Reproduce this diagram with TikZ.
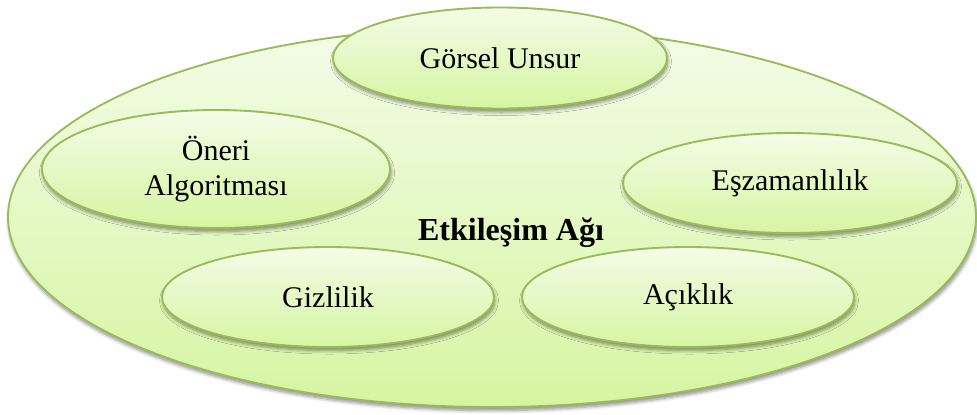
\documentclass[tikz,border=0pt]{standalone}
\usepackage{fontspec}
\setmainfont{Liberation Serif}
\usetikzlibrary{shapes.geometric,shadows.blur}
\definecolor{rimgreen}{HTML}{9BBB59}
\definecolor{filltop}{HTML}{F3FCE8}
\definecolor{fillbottom}{HTML}{D6F5A2}
\tikzset{
  bubble/.style={ellipse, draw=rimgreen, line width=0.75pt, inner sep=0pt,
    top color=filltop, bottom color=fillbottom,
    blur shadow={shadow xshift=0.4pt, shadow yshift=-1.4pt, shadow blur steps=6,
      shadow blur radius=1.4pt, shadow opacity=45},
    font=\fontsize{12}{14}\selectfont, align=center, text=black},
  outer/.style={bubble},
  title/.style={font=\fontsize{12.8}{15}\selectfont\bfseries, text=black}
}
\begin{document}
\begin{tikzpicture}[x=0.4pt, y=-0.4pt]
  \useasboundingbox (0,0) rectangle (977,414);
  % surrounding network ellipse
  \node[outer, minimum width=968*0.4pt, minimum height=380*0.4pt] (net) at (492,217) {};
  \node[title] (nettitle) at (511,233) {Etkileşim Ağı};
  % inner topics
  \node[bubble, minimum width=334*0.4pt, minimum height=101*0.4pt] (gorsel) at (500,58) {Görsel Unsur};
  \node[bubble, minimum width=348*0.4pt, minimum height=118*0.4pt] (oneri) at (216,169) {Öneri\\Algoritması};
  \node[bubble, minimum width=334*0.4pt, minimum height=100*0.4pt] (eszaman) at (790,183) {Eşzamanlılık};
  \node[bubble, minimum width=332*0.4pt, minimum height=100*0.4pt] (gizlilik) at (328,297) {Gizlilik};
  \node[bubble, minimum width=332*0.4pt, minimum height=100*0.4pt] (aciklik) at (688,297) {Açıklık};
\end{tikzpicture}
\end{document}
